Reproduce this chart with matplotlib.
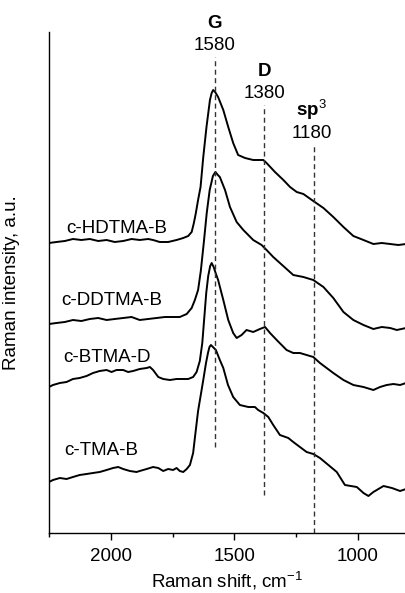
import numpy as np
import matplotlib
matplotlib.use("Agg")
import matplotlib.pyplot as plt

plt.rcParams['font.family'] = ['Liberation Sans', 'DejaVu Sans']
plt.rcParams['mathtext.fontset'] = 'custom'
plt.rcParams['mathtext.rm'] = 'Liberation Sans'
plt.rcParams['mathtext.bf'] = 'Liberation Sans:bold'

# Raman shift (cm-1) / intensity (offset, a.u.)
hdtma_x = [2250, 2220, 2186, 2153, 2119, 2085, 2051, 2017, 1984, 1950, 1916, 1883,
           1849, 1829, 1802, 1768, 1734, 1707, 1687, 1673, 1664, 1656, 1647, 1637,
           1626, 1613, 1599, 1592, 1586, 1578, 1566, 1545, 1525, 1505, 1485, 1457,
           1424, 1383, 1370, 1336, 1302, 1275, 1248, 1221, 1181, 1140, 1100, 1059,
           1019, 978, 938, 904, 870, 837, 806]
hdtma_y = [290, 291, 292, 294, 293, 294, 292, 293, 291, 292, 294, 293,
           294, 293, 291, 291, 293, 295, 297, 301, 310, 320, 333, 346,
           376, 406, 433, 440, 443, 441, 436, 423, 406, 390, 378, 375,
           373, 373, 370, 361, 353, 346, 341, 339, 332, 325, 316, 306,
           297, 293, 289, 290, 289, 288, 289]

ddtma_x = [2250, 2220, 2186, 2153, 2119, 2085, 2051, 2017, 1984, 1950, 1916, 1883,
           1849, 1815, 1781, 1748, 1721, 1693, 1673, 1660, 1647, 1636, 1624, 1612,
           1600, 1587, 1577, 1567, 1559, 1538, 1518, 1491, 1464, 1424, 1390, 1370,
           1343, 1316, 1289, 1262, 1221, 1181, 1140, 1100, 1059, 1019, 978, 938,
           904, 870, 843, 806]
ddtma_y = [209, 210, 211, 213, 212, 214, 215, 213, 214, 215, 216, 213,
           214, 215, 216, 216, 216, 219, 225, 233, 243, 262, 290, 320,
           343, 357, 361, 358, 356, 343, 326, 311, 303, 293, 288, 283,
           276, 270, 264, 258, 256, 253, 246, 235, 221, 213, 208, 204,
           206, 205, 203, 205]

btma_x = [2250, 2234, 2206, 2179, 2153, 2126, 2098, 2072, 2045, 2017, 1997, 1977,
          1950, 1930, 1910, 1883, 1855, 1842, 1829, 1808, 1788, 1761, 1734, 1707,
          1687, 1667, 1653, 1640, 1630, 1622, 1614, 1606, 1598, 1592, 1584, 1576,
          1566, 1545, 1525, 1505, 1491, 1471, 1451, 1424, 1397, 1376, 1356, 1329,
          1289, 1262, 1235, 1208, 1181, 1154, 1127, 1100, 1059, 1019, 978, 938,
          911, 884, 857, 830, 806]
btma_y = [146, 148, 150, 151, 154, 155, 157, 160, 162, 163, 161, 163,
          163, 161, 162, 164, 165, 166, 163, 156, 154, 153, 154, 154,
          154, 156, 161, 172, 190, 215, 240, 257, 267, 270, 266, 260,
          253, 233, 213, 200, 195, 198, 203, 201, 204, 206, 200, 193,
          183, 180, 180, 178, 176, 170, 165, 160, 153, 148, 146, 143,
          146, 148, 149, 148, 150]

tma_x = [2250, 2234, 2206, 2179, 2153, 2126, 2098, 2072, 2045, 2017, 1991, 1970,
         1950, 1923, 1896, 1883, 1855, 1829, 1808, 1788, 1768, 1748, 1734, 1721,
         1707, 1693, 1680, 1667, 1660, 1647, 1626, 1615, 1607, 1601, 1595, 1587,
         1575, 1559, 1545, 1526, 1505, 1478, 1444, 1417, 1404, 1383, 1363, 1343,
         1316, 1282, 1262, 1235, 1208, 1181, 1154, 1120, 1086, 1053, 1005, 978,
         958, 938, 897, 863, 830, 806]
tma_y = [51, 53, 55, 54, 56, 58, 59, 60, 61, 63, 65, 66,
         64, 62, 61, 62, 64, 66, 65, 62, 64, 63, 65, 62,
         61, 64, 68, 80, 95, 122, 153, 170, 180, 186, 188, 186,
         183, 173, 165, 148, 136, 128, 126, 126, 123, 120, 116, 108,
         98, 95, 91, 86, 81, 79, 75, 68, 61, 48, 46, 40,
         37, 41, 47, 45, 42, 44]

names = ['c-HDTMA-B', 'c-DDTMA-B', 'c-BTMA-D', 'c-TMA-B']
label_x = [2181, 2202, 2194, 2190]
label_y = [300, 228, 171, 78]

bands = ['G', 'D', r'$\mathbf{sp}^{\mathrm{3}}$']
band_pos = [1580, 1380, 1180]
band_top = [476, 428, 388]
band_bottom = [86, 38, 0]


def main():
    fig = plt.figure(figsize=(4.06, 5.93), dpi=100)
    ax = fig.add_axes([49 / 406, 60 / 593, 357 / 406, 501 / 593])

    for xs, ys in [(hdtma_x, hdtma_y), (ddtma_x, ddtma_y),
                   (btma_x, btma_y), (tma_x, tma_y)]:
        ax.plot(xs, ys, color='black', lw=1.4, solid_joinstyle='round')

    for name, lx, ly in zip(names, label_x, label_y):
        ax.text(lx, ly, name, fontsize=13.5, ha='left', va='baseline')

    for band, pos, top, bot in zip(bands, band_pos, band_top, band_bottom):
        ax.plot([pos, pos], [bot, top], color='#333333', lw=1.0,
                linestyle=(0, (3.6, 2.5)))
        x_txt = pos if band != bands[2] else pos + 8
        ax.text(x_txt, top + 7, str(pos), fontsize=13.5, ha='center',
                va='baseline', clip_on=False)
        ax.text(x_txt, top + 29, band, fontsize=13.5, ha='center',
                va='baseline', fontweight='bold', clip_on=False)

    ax.set_xlim(2250, 806)
    ax.set_ylim(0, 501)
    ax.set_xticks([2000, 1500, 1000])
    ax.set_xticks([2250, 1750, 1250], minor=True)
    ax.tick_params(axis='x', which='major', length=5, width=1, labelsize=13.5, pad=6)
    ax.tick_params(axis='x', which='minor', length=3, width=1)
    ax.set_yticks([])
    for s in ['top', 'right']:
        ax.spines[s].set_visible(False)
    for s in ['left', 'bottom']:
        ax.spines[s].set_linewidth(1.0)
    ax.set_xlabel(r'Raman shift, cm$^{\mathrm{-1}}$', fontsize=13.5, labelpad=3)
    ax.set_ylabel('Raman intensity, a.u.', fontsize=13.5, labelpad=21)

    fig.savefig('out.png', dpi=100)


if __name__ == '__main__':
    main()
